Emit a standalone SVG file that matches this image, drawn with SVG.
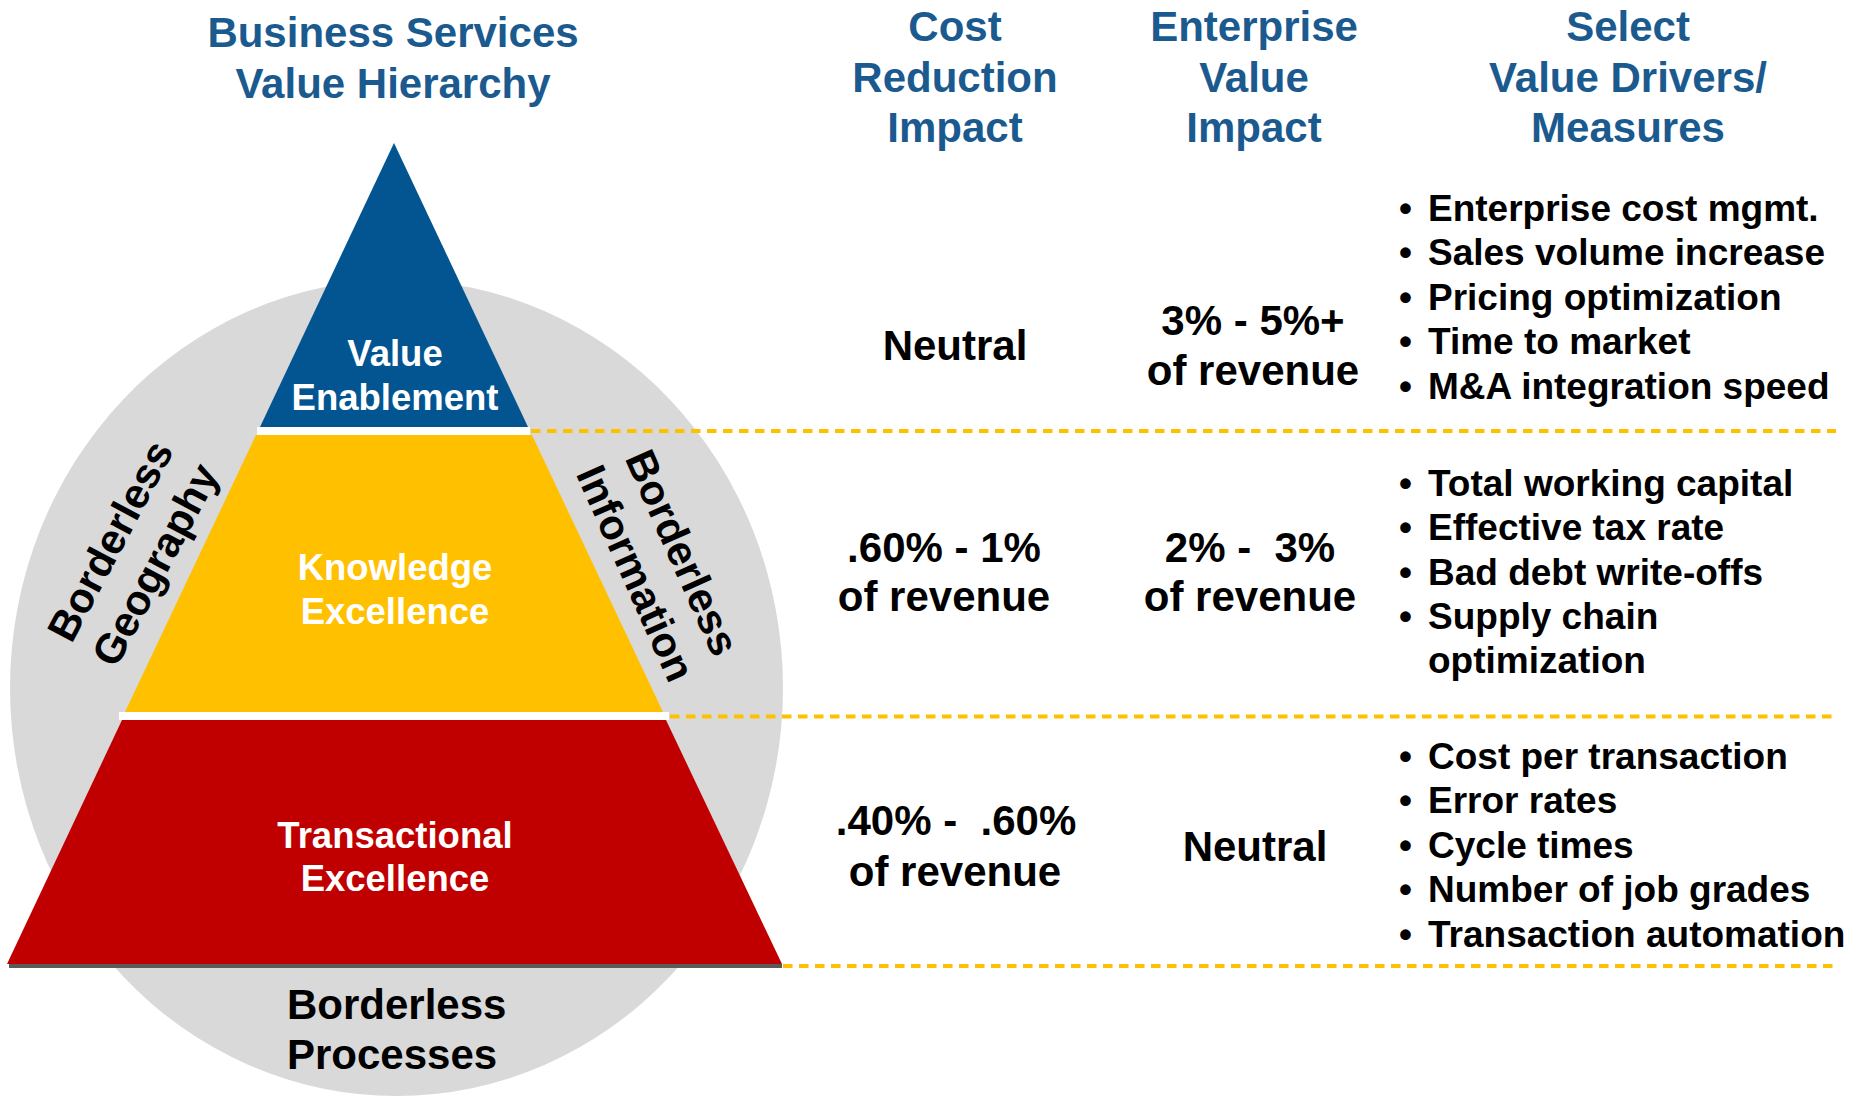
<svg xmlns="http://www.w3.org/2000/svg" width="1866" height="1096" viewBox="0 0 1866 1096">
<style>
text{font-family:"Liberation Sans",Arial,sans-serif;font-weight:bold}
.hd{fill:#1B5A8F;font-size:42px;text-anchor:middle}
.val{fill:#000;font-size:42px;text-anchor:middle}
.lvl{fill:#fff;font-size:36.5px;text-anchor:middle}
.bd{fill:#000;font-size:42px}
.bl{fill:#000;font-size:37px}
.dash{stroke:#FFC000;stroke-width:4;stroke-dasharray:9.5 6.5;fill:none}
</style>
<rect width="1866" height="1096" fill="#fff"/>
<g id="titles">
<text class="hd" x="393" y="47">Business Services</text>
<text class="hd" x="393" y="98">Value Hierarchy</text>
<text class="hd" x="955" y="41">Cost</text>
<text class="hd" x="955" y="92">Reduction</text>
<text class="hd" x="955" y="142">Impact</text>
<text class="hd" x="1254" y="41">Enterprise</text>
<text class="hd" x="1254" y="92">Value</text>
<text class="hd" x="1254" y="142">Impact</text>
<text class="hd" x="1628" y="41">Select</text>
<text class="hd" x="1628" y="92">Value Drivers/</text>
<text class="hd" x="1628" y="142">Measures</text>
</g>
<g id="circle">
<ellipse cx="396.5" cy="688" rx="386.5" ry="408" fill="#D9D9D9"/>
</g>
<g id="value-enablement">
<polygon points="394,143 260,427 528,427" fill="#035592"/>
<text class="lvl" x="395" y="366">Value</text>
<text class="lvl" x="395" y="410">Enablement</text>
</g>
<rect x="257" y="427" width="273" height="8" fill="#fff"/>
<g id="knowledge-excellence">
<polygon points="256,435 532,435 663,712 125,712" fill="#FFC000"/>
<text class="lvl" x="395" y="580">Knowledge</text>
<text class="lvl" x="395" y="624">Excellence</text>
</g>
<rect x="119" y="712" width="550" height="8" fill="#fff"/>
<g id="transactional-excellence">
<polygon points="122,720 666,720 782,964 7,964" fill="#C00000"/>
<rect x="9" y="964" width="773" height="4" fill="#5A5A5A"/>
<text class="lvl" x="395" y="848">Transactional</text>
<text class="lvl" x="395" y="891">Excellence</text>
</g>
<g id="borderless-geography" transform="translate(132.7,552.7) rotate(-62)">
<text class="bd" x="0" y="-11" text-anchor="middle" font-size="41">Borderless</text>
<text class="bd" x="0" y="40" text-anchor="middle" font-size="41">Geography</text>
</g>
<g id="borderless-information" transform="translate(659,563) rotate(66)">
<text class="bd" x="0" y="-11" text-anchor="middle" font-size="41">Borderless</text>
<text class="bd" x="0" y="40" text-anchor="middle" font-size="41">Information</text>
</g>
<g id="borderless-processes">
<text class="bd" x="287" y="1019">Borderless</text>
<text class="bd" x="287" y="1069">Processes</text>
</g>
<g id="connectors">
<line class="dash" x1="531" y1="431" x2="1836" y2="431"/>
<line class="dash" x1="670" y1="716.5" x2="1836" y2="716.5"/>
<line class="dash" x1="783" y1="966" x2="1836" y2="966"/>
</g>
<g id="row1">
<text class="val" x="955" y="360">Neutral</text>
<text class="val" x="1253" y="335">3% - 5%+</text>
<text class="val" x="1253" y="385">of revenue</text>
<text class="bl"><tspan x="1399" y="220.5">•</tspan><tspan x="1428">Enterprise cost mgmt.</tspan></text>
<text class="bl"><tspan x="1399" y="265">•</tspan><tspan x="1428">Sales volume increase</tspan></text>
<text class="bl"><tspan x="1399" y="309.5">•</tspan><tspan x="1428">Pricing optimization</tspan></text>
<text class="bl"><tspan x="1399" y="354">•</tspan><tspan x="1428">Time to market</tspan></text>
<text class="bl"><tspan x="1399" y="398.5">•</tspan><tspan x="1428">M&amp;A integration speed</tspan></text>
</g>
<g id="row2">
<text class="val" x="944" y="562">.60% - 1%</text>
<text class="val" x="944" y="611">of revenue</text>
<text class="val" x="1250" y="562" xml:space="preserve">2% -  3%</text>
<text class="val" x="1250" y="611">of revenue</text>
<text class="bl"><tspan x="1399" y="495.5">•</tspan><tspan x="1428">Total working capital</tspan></text>
<text class="bl"><tspan x="1399" y="540">•</tspan><tspan x="1428">Effective tax rate</tspan></text>
<text class="bl"><tspan x="1399" y="584.5">•</tspan><tspan x="1428">Bad debt write-offs</tspan></text>
<text class="bl"><tspan x="1399" y="629">•</tspan><tspan x="1428">Supply chain</tspan></text>
<text class="bl" x="1428" y="673">optimization</text>
</g>
<g id="row3">
<text class="val" x="956" y="835" xml:space="preserve">.40% -  .60%</text>
<text class="val" x="955" y="886">of revenue</text>
<text class="val" x="1255" y="861">Neutral</text>
<text class="bl"><tspan x="1399" y="768.5">•</tspan><tspan x="1428">Cost per transaction</tspan></text>
<text class="bl"><tspan x="1399" y="813">•</tspan><tspan x="1428">Error rates</tspan></text>
<text class="bl"><tspan x="1399" y="857.5">•</tspan><tspan x="1428">Cycle times</tspan></text>
<text class="bl"><tspan x="1399" y="902">•</tspan><tspan x="1428">Number of job grades</tspan></text>
<text class="bl"><tspan x="1399" y="946.5">•</tspan><tspan x="1428">Transaction automation</tspan></text>
</g>
</svg>
